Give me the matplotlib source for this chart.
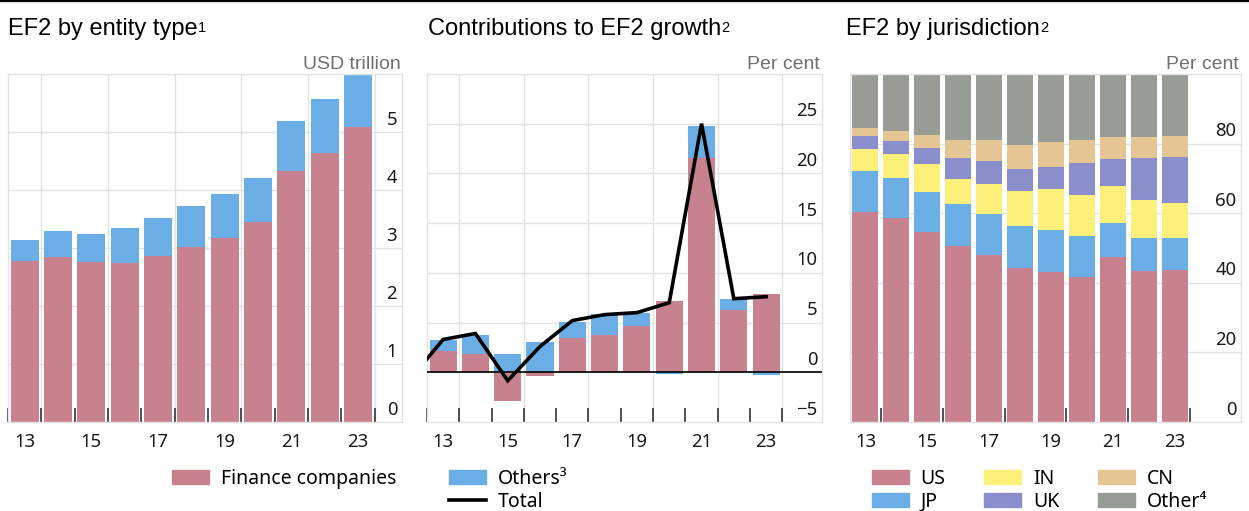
import matplotlib
matplotlib.use('Agg')
import matplotlib.pyplot as plt
import numpy as np
from matplotlib.transforms import ScaledTranslation
from matplotlib.lines import Line2D
from matplotlib.patches import Patch

# ---------------- data ----------------
years = np.arange(13, 24)
xtick_years = [13, 15, 17, 19, 21, 23]
xtick_labels = ['13', '15', '17', '19', '21', '23']

# Panel 1: EF2 by entity type (USD trillion)
finance_level = [2.78, 2.85, 2.76, 2.75, 2.87, 3.01, 3.18, 3.44, 4.32, 4.64, 5.09]
others_level = [0.36, 0.44, 0.49, 0.59, 0.64, 0.71, 0.75, 0.76, 0.87, 0.93, 0.91]
p1_yticks = [0, 1, 2, 3, 4, 5]

# Panel 2: contributions to EF2 growth (per cent)
finance_contrib = [2.1, 1.8, -2.9, -0.4, 3.4, 3.8, 4.7, 7.2, 21.6, 6.25, 7.9]
others_contrib = [1.1, 2.0, 1.8, 3.0, 1.7, 2.05, 1.3, -0.2, 3.2, 1.1, -0.3]
total_years = np.arange(12, 24)
total_growth = [-0.6, 3.3, 3.9, -0.85, 2.6, 5.2, 5.8, 6.0, 7.0, 25.0, 7.4, 7.6]
p2_yticks = [-5, 0, 5, 10, 15, 20, 25]
p2_yticklabels = ['\u22125', '0', '5', '10', '15', '20', '25']

# Panel 3: EF2 by jurisdiction (per cent share)
share_US = [60.4, 58.7, 54.5, 50.7, 48.0, 44.3, 43.2, 41.6, 47.5, 43.3, 43.7]
share_JP = [11.7, 11.3, 11.7, 11.9, 11.7, 12.1, 12.0, 11.9, 9.8, 9.6, 9.3]
share_IN = [6.4, 7.0, 7.8, 7.3, 8.6, 10.0, 11.7, 11.6, 10.5, 10.9, 10.0]
share_UK = [3.6, 3.7, 4.7, 6.0, 6.6, 6.3, 6.4, 9.2, 7.9, 12.1, 13.1]
share_CN = [2.4, 2.8, 3.7, 5.0, 6.2, 7.0, 7.1, 6.6, 6.2, 6.0, 6.0]
share_Other = [15.5, 16.5, 17.6, 19.1, 18.9, 20.3, 19.6, 19.1, 18.1, 18.1, 17.9]
p3_yticks = [0, 20, 40, 60, 80]

titles = ['EF2 by entity type', 'Contributions to EF2 growth', 'EF2 by jurisdiction']
title_notes = ['1', '2', '2']

# ---------------- style ----------------
PINK = '#C8828F'
BLUE = '#6AAEE5'
YELLOW = '#FCF07A'
PURPLE = '#8A8ECB'
TAN = '#E6C594'
GREY = '#979C95'
GRID = '#E2E2E2'
TITLE_FONT = 'Liberation Sans'
TICK_FONT = ['Noto Sans', 'DejaVu Sans']
TICK_SIZE = 13.3
LEG_SIZE = 14
BAR_W = 0.84

W, H = 1249, 511
fig = plt.figure(figsize=(W / 100, H / 100), dpi=100)


def px_axes(left, right, top=74, bottom=422):
    return fig.add_axes([left / W, (H - bottom) / H, (right - left) / W, (bottom - top) / H])


def style_axes(ax, xlim, ylim, yticks, yticklabels, vgrid, minor_ticks):
    ax.set_xlim(*xlim)
    ax.set_ylim(*ylim)
    ax.set_axisbelow(True)
    for s in ax.spines.values():
        s.set_color(GRID)
        s.set_linewidth(1.0)
    for v in yticks:
        if ylim[0] < v < ylim[1]:
            ax.axhline(v, color=GRID, lw=1.0, zorder=0)
    for v in vgrid:
        ax.axvline(v, color=GRID, lw=1.0, zorder=0)
    ax.set_xticks(xtick_years)
    ax.set_xticklabels(xtick_labels)
    ax.set_xticks(minor_ticks, minor=True)
    ax.tick_params(axis='x', which='major', length=0, pad=8,
                   labelsize=TICK_SIZE, labelcolor='#1a1a1a')
    ax.tick_params(axis='x', which='minor', direction='in', length=10,
                   width=1.1, color='#222222')
    for lbl in ax.get_xticklabels():
        lbl.set_family(TICK_FONT)
    ax.yaxis.tick_right()
    ax.set_yticks(yticks)
    ax.set_yticklabels(yticklabels)
    ax.tick_params(axis='y', which='major', length=0, pad=-3.5,
                   labelsize=TICK_SIZE, labelcolor='#1a1a1a')
    off = ScaledTranslation(0, 0.145, fig.dpi_scale_trans)
    for lbl in ax.get_yticklabels():
        lbl.set_horizontalalignment('right')
        lbl.set_family(TICK_FONT)
        lbl.set_transform(lbl.get_transform() + off)


# ---------------- panel 1 ----------------
ax1 = px_axes(8, 402)
ax1.bar(years, finance_level, width=BAR_W, color=PINK, zorder=2)
ax1.bar(years, others_level, width=BAR_W, bottom=finance_level, color=BLUE, zorder=2)
style_axes(ax1, (12.5, 24.32), (0, 6), p1_yticks, [str(v) for v in p1_yticks],
           vgrid=np.arange(13.5, 24, 2), minor_ticks=np.arange(12.5, 24, 1))

# ---------------- panel 2 ----------------
ax2 = px_axes(427, 822)
fc = np.array(finance_contrib)
oc = np.array(others_contrib)
ax2.bar(years, fc, width=BAR_W, color=PINK, zorder=2)
o_bottom = np.where(oc >= 0, np.maximum(fc, 0), np.minimum(fc, 0))
ax2.bar(years, oc, width=BAR_W, bottom=o_bottom, color=BLUE, zorder=2)
ax2.plot(total_years, total_growth, color='black', lw=2.6, zorder=4,
         solid_joinstyle='miter')
ax2.axhline(0, color='black', lw=1.2, zorder=3)
style_axes(ax2, (12.5, 24.73), (-5, 30), p2_yticks, p2_yticklabels,
           vgrid=np.arange(13.5, 24, 2), minor_ticks=np.arange(12.5, 24, 1))

# ---------------- panel 3 ----------------
ax3 = px_axes(850, 1241)
shares = [share_US, share_JP, share_IN, share_UK, share_CN, share_Other]
colors3 = [PINK, BLUE, YELLOW, PURPLE, TAN, GREY]
bottom = np.zeros(len(years))
for s, c in zip(shares, colors3):
    ax3.bar(years, s, width=BAR_W, bottom=bottom, color=c, zorder=2)
    bottom = bottom + np.array(s)
style_axes(ax3, (12.5, 25.15), (0, 100), p3_yticks, [str(v) for v in p3_yticks],
           vgrid=[], minor_ticks=np.arange(13.5, 24, 2))

# ---------------- titles and units ----------------
title_y = (H - 35) / H
TITLE_SIZE = 17
for x_px, t, n in zip([8, 427.5, 846.5], titles, title_notes):
    tt = fig.text(x_px / W, title_y, t, family=TITLE_FONT, fontsize=TITLE_SIZE,
                  va='baseline', ha='left')
    fig.add_artist(plt.Annotation(n, xy=(1, 1), xycoords=tt,
                                  xytext=(0.2, -2.0), textcoords='offset points',
                                  va='top', ha='left', family=TITLE_FONT,
                                  fontsize=10.5))

unit_y = (H - 69) / H
UNIT_SIZE = 14
fig.text(401 / W, unit_y, 'USD trillion', family=TITLE_FONT, fontsize=UNIT_SIZE,
         color='#707070', ha='right', va='baseline')
fig.text(820 / W, unit_y, 'Per cent', family=TITLE_FONT, fontsize=UNIT_SIZE,
         color='#707070', ha='right', va='baseline')
fig.text(1239 / W, unit_y, 'Per cent', family=TITLE_FONT, fontsize=UNIT_SIZE,
         color='#707070', ha='right', va='baseline')

# top rule
fig.add_artist(Line2D([0, 1], [1 - 1 / H, 1 - 1 / H], transform=fig.transFigure,
                      color='black', lw=1.6))

# ---------------- legends ----------------
leg_kw = dict(frameon=False, prop={'family': TICK_FONT, 'size': LEG_SIZE},
              handlelength=1.9, handleheight=0.7, handletextpad=0.6,
              borderpad=0, borderaxespad=0, labelspacing=0.15,
              bbox_transform=fig.transFigure, loc='upper left')

leg_top = (H - 469) / H
h1 = [Patch(color=PINK, label='Finance companies')]
fig.legend(handles=h1, bbox_to_anchor=(172 / W, leg_top), **leg_kw)

h2 = [Patch(color=BLUE, label='Others\u00b3'),
      Line2D([], [], color='black', lw=2.6, label='Total')]
fig.legend(handles=h2, bbox_to_anchor=(449 / W, leg_top), **leg_kw)

h3 = [Patch(color=PINK, label='US'), Patch(color=BLUE, label='JP'),
      Patch(color=YELLOW, label='IN'), Patch(color=PURPLE, label='UK'),
      Patch(color=TAN, label='CN'), Patch(color=GREY, label='Other\u2074')]
fig.legend(handles=h3, ncol=3, columnspacing=2.0,
           bbox_to_anchor=(872 / W, leg_top), **leg_kw)

fig.savefig('out.png', dpi=100)
